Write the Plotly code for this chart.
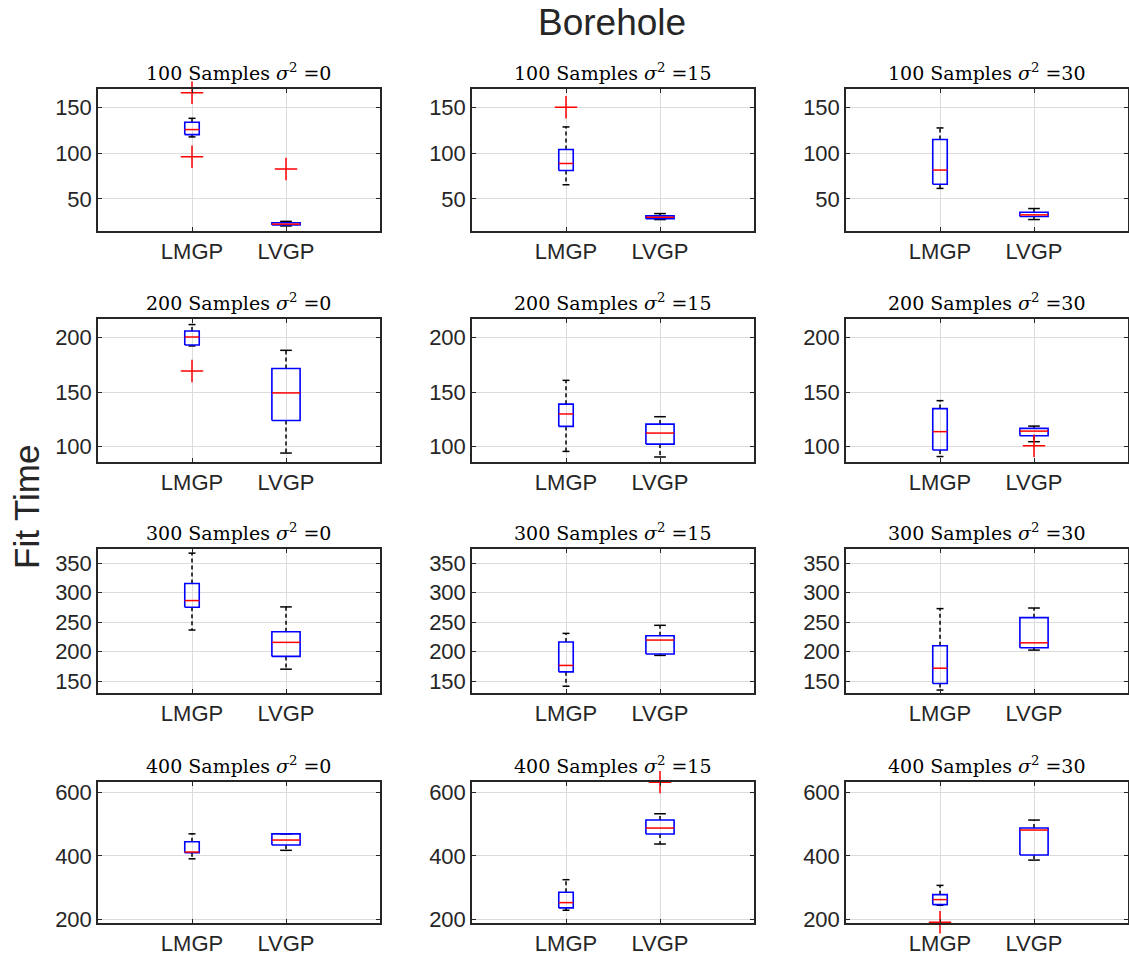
import plotly.graph_objects as go

# ---------------- data ----------------
samples = [100, 200, 300, 400]
noise_levels = [0, 15, 30]
models = ["LMGP", "LVGP"]

# rows = sample sizes, cols = noise levels
lmgp_q1 = [[120.2, 81.0, 66.0], [193.2, 118.6, 97.0], [275.3, 165.8, 146.0], [410.3, 235.7, 246.0]]
lmgp_med = [[125.7, 88.7, 81.5], [200.5, 130.0, 113.8], [286.6, 176.7, 172.0], [412.5, 252.4, 262.0]]
lmgp_q3 = [[133.7, 104.0, 114.8], [206.0, 139.0, 134.9], [315.5, 216.3, 210.0], [445.0, 285.3, 277.7]]
lmgp_lo = [[117.7, 65.5, 61.5], [192.3, 95.7, 91.0], [236.7, 141.5, 135.0], [391.0, 228.4, 244.0]]
lmgp_hi = [[138.0, 128.6, 127.5], [211.9, 160.8, 142.2], [367.0, 231.0, 273.0], [470.0, 325.0, 307.0]]
lmgp_out = [[[165.9, 96.0], [150.0], []], [[169.4], [], []], [[], [], []], [[], [], [190.5]]]

lvgp_q1 = [[21.5, 28.5, 30.8], [124.0, 102.4, 110.1], [192.0, 196.0, 206.6], [434.6, 469.4, 403.0]]
lvgp_med = [[22.5, 30.0, 32.6], [149.3, 112.5, 114.3], [215.8, 219.7, 215.0], [450.4, 488.3, 482.0]]
lvgp_q3 = [[24.0, 31.5, 35.4], [171.6, 120.7, 116.8], [233.8, 227.0, 257.7], [470.0, 513.6, 488.3]]
lvgp_lo = [[20.5, 27.5, 27.5], [94.2, 90.6, 104.6], [170.4, 193.7, 202.7], [417.9, 437.8, 387.0]]
lvgp_hi = [[25.5, 34.0, 39.5], [188.3, 127.5, 118.9], [275.9, 244.7, 274.0], [470.0, 533.5, 513.6]]
lvgp_out = [[[82.6], [], []], [[], [], [100.9]], [[], [], []], [[], [633.6], []]]

y_ranges = [[15, 170], [86, 217], [130, 374], [188, 634]]
y_ticks = [[50, 100, 150], [100, 150, 200], [150, 200, 250, 300, 350], [200, 400, 600]]

# ---------------- layout geometry ----------------
W, H = 1129, 958
col_px = [(98, 380), (472, 754), (846, 1128)]
row_px = [(89, 231), (319, 462), (549, 693), (782, 923)]
box_half = [0.077, 0.15]   # LMGP, LVGP half widths (x units)
cap_half = [0.037, 0.062]

TXT = "#262626"
fig = go.Figure()
layout = dict(
    width=W, height=H, margin=dict(l=0, r=0, t=0, b=0),
    paper_bgcolor="white", plot_bgcolor="white", showlegend=False,
    font=dict(family="Liberation Sans, Arial, sans-serif", color=TXT),
)
annotations = []

stats = [
    (lmgp_q1, lmgp_med, lmgp_q3, lmgp_lo, lmgp_hi, lmgp_out),
    (lvgp_q1, lvgp_med, lvgp_q3, lvgp_lo, lvgp_hi, lvgp_out),
]

for r in range(4):
    for c in range(3):
        k = r * 3 + c + 1
        xa = "x" if k == 1 else f"x{k}"
        ya = "y" if k == 1 else f"y{k}"
        x0, x1 = col_px[c]
        yt, yb = row_px[r]
        layout["xaxis" if k == 1 else f"xaxis{k}"] = dict(
            domain=[x0 / W, x1 / W], range=[0, 3], anchor=ya,
            tickmode="array", tickvals=[1, 2], ticktext=models,
            showgrid=True, gridcolor="#dcdcdc", gridwidth=1,
            showline=True, linecolor=TXT, linewidth=1.5, mirror="ticks",
            ticks="inside", ticklen=4, tickcolor=TXT,
            tickfont=dict(size=22, color=TXT, family="Liberation Sans, Arial"),
            zeroline=False, automargin=False, fixedrange=True,
        )
        layout["yaxis" if k == 1 else f"yaxis{k}"] = dict(
            domain=[1 - yb / H, 1 - yt / H], range=y_ranges[r], anchor=xa,
            tickmode="array", tickvals=y_ticks[r],
            showgrid=True, gridcolor="#dcdcdc", gridwidth=1,
            showline=True, linecolor=TXT, linewidth=1.5, mirror="ticks",
            ticks="inside", ticklen=4, tickcolor=TXT,
            tickfont=dict(size=22, color=TXT, family="Liberation Sans, Arial"),
            zeroline=False, automargin=False, fixedrange=True,
        )
        for m in range(2):
            q1s, meds, q3s, los, his, outs = stats[m]
            q1, med, q3 = q1s[r][c], meds[r][c], q3s[r][c]
            lo, hi, out = los[r][c], his[r][c], outs[r][c]
            xc = m + 1
            bh, ch = box_half[m], cap_half[m]
            # whiskers (dashed black)
            fig.add_trace(go.Scatter(
                x=[xc, xc, None, xc, xc], y=[q3, hi, None, q1, lo],
                mode="lines", line=dict(color="black", width=1.5, dash="4px,3px"),
                xaxis=xa, yaxis=ya, hoverinfo="skip"))
            # caps
            fig.add_trace(go.Scatter(
                x=[xc - ch, xc + ch, None, xc - ch, xc + ch], y=[hi, hi, None, lo, lo],
                mode="lines", line=dict(color="black", width=1.5),
                xaxis=xa, yaxis=ya, hoverinfo="skip"))
            # box
            fig.add_trace(go.Scatter(
                x=[xc - bh, xc + bh, xc + bh, xc - bh, xc - bh],
                y=[q1, q1, q3, q3, q1],
                mode="lines", line=dict(color="#0000ff", width=1.6),
                xaxis=xa, yaxis=ya, hoverinfo="skip"))
            # median
            fig.add_trace(go.Scatter(
                x=[xc - bh, xc + bh], y=[med, med],
                mode="lines", line=dict(color="#ff0000", width=1.5),
                xaxis=xa, yaxis=ya, hoverinfo="skip"))
            # outliers
            if out:
                fig.add_trace(go.Scatter(
                    x=[xc] * len(out), y=out, mode="markers",
                    marker=dict(symbol="cross-thin", size=16,
                                line=dict(color="#ff0000", width=1.5)),
                    cliponaxis=False, xaxis=xa, yaxis=ya, hoverinfo="skip"))
        annotations.append(dict(
            text=f"{samples[r]} Samples <i>σ</i><sup>2</sup> =" + str(noise_levels[c]),
            x=(x0 + x1) / 2 / W, y=1 - (yt - 3) / H, xref="paper", yref="paper",
            xanchor="center", yanchor="bottom", showarrow=False,
            font=dict(family="DejaVu Serif, Liberation Serif, serif", size=19, color="black"),
        ))

annotations.append(dict(
    text="Borehole", x=612 / W, y=1 - 22 / H, xref="paper", yref="paper",
    xanchor="center", yanchor="middle", showarrow=False,
    font=dict(family="Liberation Sans, Arial", size=37, color=TXT)))
annotations.append(dict(
    text="Fit Time", x=26 / W, y=1 - 507 / H, xref="paper", yref="paper",
    xanchor="center", yanchor="middle", showarrow=False, textangle=-90,
    font=dict(family="Liberation Sans, Arial", size=35, color=TXT)))

layout["annotations"] = annotations
fig.update_layout(**layout)
fig.write_html("out.html", config={"displayModeBar": False},
               post_script="document.body.style.margin='0px';")
